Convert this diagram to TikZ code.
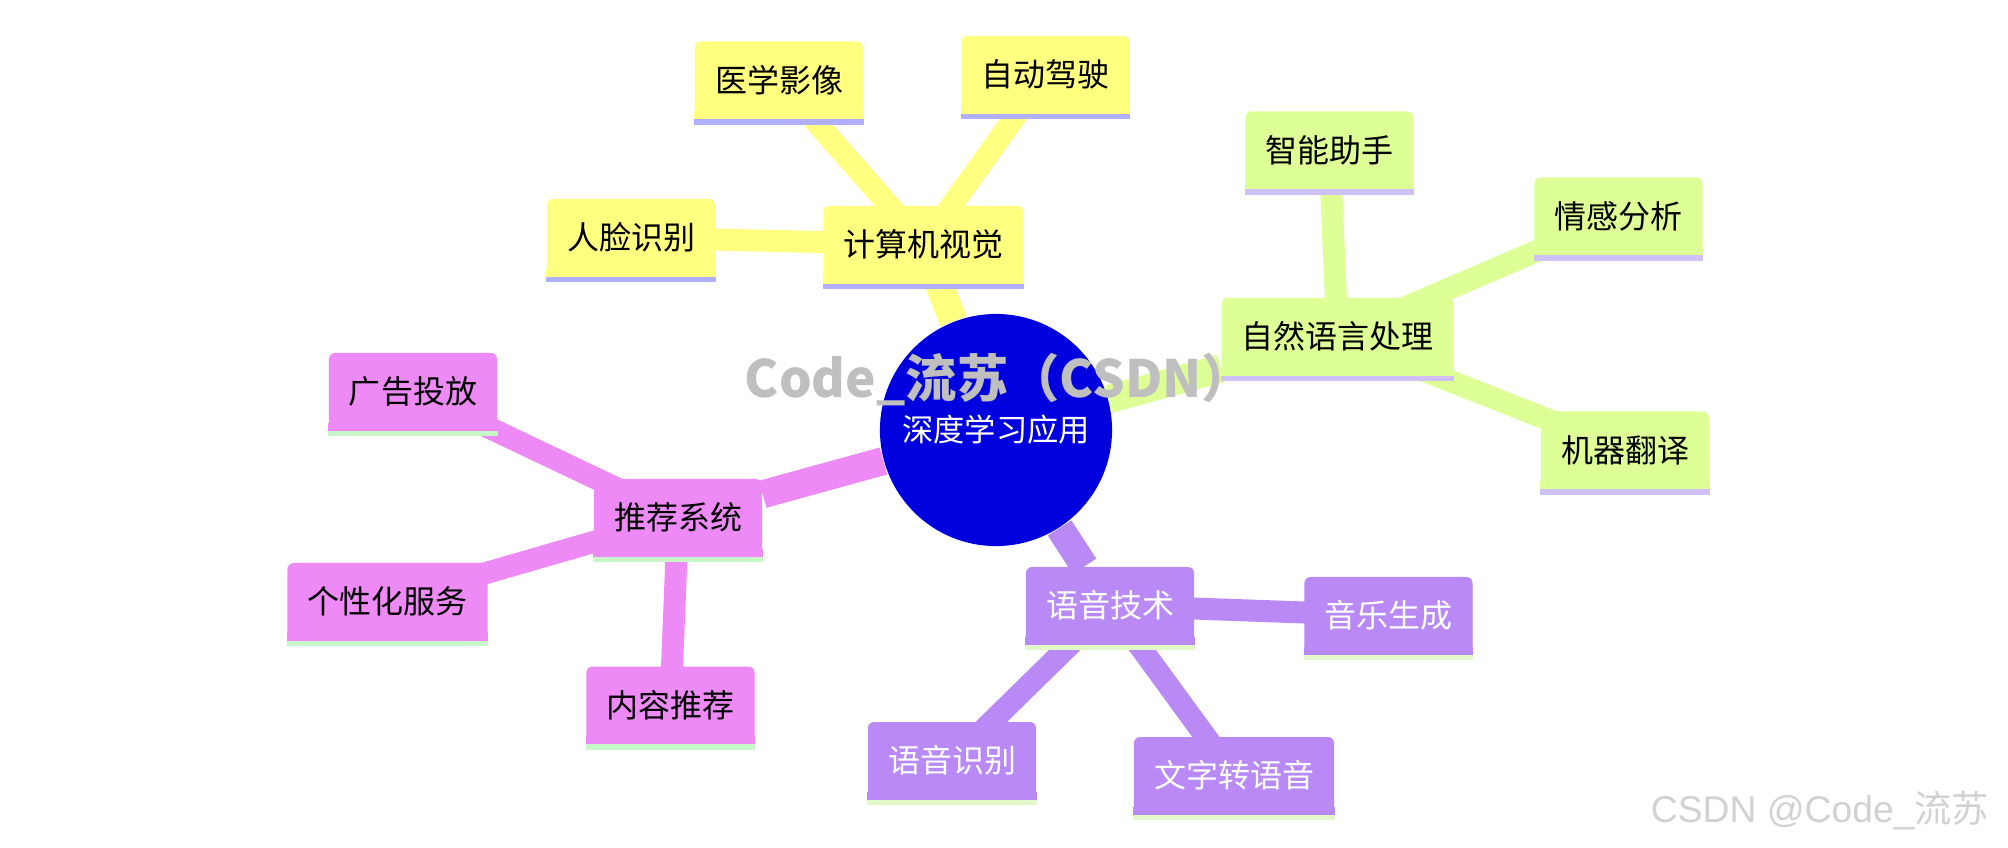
\documentclass[tikz,border=0pt]{standalone}
\usepackage{fontspec}
\setmainfont{Noto Sans CJK SC}
\newfontfamily\signfont{Liberation Sans}
\usepackage{tikz}
\usetikzlibrary{positioning,backgrounds}

\definecolor{rootblue}{HTML}{0000DF}
\definecolor{cvfill}{HTML}{FFFF80}
\definecolor{cvbar}{HTML}{B0B0FF}
\definecolor{nlpfill}{HTML}{DEFF96}
\definecolor{nlpbar}{HTML}{D0C0F8}
\definecolor{recfill}{HTML}{EE8AF6}
\definecolor{recbar}{HTML}{C8F8C8}
\definecolor{spfill}{HTML}{B98AF5}
\definecolor{spbar}{HTML}{E2F8C8}
\definecolor{markgray}{HTML}{BFBFBF}

\begin{document}
\begin{tikzpicture}[x=0.01cm, y=-0.01cm,
    topic/.style={rounded corners=0.06cm, inner xsep=0.2cm, inner ysep=0pt, minimum height=0.77cm, font=\fontsize{9.1pt}{11pt}\selectfont},
    voice/.style={topic, fill=spfill, text=white},
    mainlink/.style={line width=0.28cm},
    sublink/.style={line width=0.22cm}
]
\useasboundingbox (0,0) rectangle (2008,847);

% Root
\node[circle, fill=rootblue, minimum size=2.32cm, inner sep=0pt, text=white, font=\fontsize{8.9pt}{11pt}\selectfont] (root) at (996,430) {深度学习应用};

% Computer vision branch
\node[topic, fill=cvfill] (cv) at (923.5,244.5) {计算机视觉};
\node[topic, fill=cvfill] (face) at (631,237.5) {人脸识别};
\node[topic, fill=cvfill] (med) at (779,80) {医学影像};
\node[topic, fill=cvfill] (drive) at (1045.5,74.5) {自动驾驶};

% NLP branch
\node[topic, fill=nlpfill] (nlp) at (1337.5,336.5) {自然语言处理};
\node[topic, fill=nlpfill] (assist) at (1329.5,150) {智能助手};
\node[topic, fill=nlpfill] (senti) at (1618.5,216) {情感分析};
\node[topic, fill=nlpfill] (trans) at (1625,450) {机器翻译};

% Recommendation branch
\node[topic, fill=recfill] (rec) at (678,517.5) {推荐系统};
\node[topic, fill=recfill] (ads) at (413,391.5) {广告投放};
\node[topic, fill=recfill] (pers) at (387.5,601.5) {个性化服务};
\node[topic, fill=recfill] (content) at (670.5,705) {内容推荐};

% Speech branch
\node[voice] (speech) at (1110,605.5) {语音技术};
\node[voice] (music) at (1388.5,615.5) {音乐生成};
\node[voice] (asr) at (952,760.5) {语音识别};
\node[voice] (tts) at (1234,775.5) {文字转语音};

% Square bottoms and underline bars
\foreach \n/\fc/\bc in {cv/cvfill/cvbar, face/cvfill/cvbar, med/cvfill/cvbar, drive/cvfill/cvbar,
    nlp/nlpfill/nlpbar, assist/nlpfill/nlpbar, senti/nlpfill/nlpbar, trans/nlpfill/nlpbar,
    rec/recfill/recbar, ads/recfill/recbar, pers/recfill/recbar, content/recfill/recbar,
    speech/spfill/spbar, music/spfill/spbar, asr/spfill/spbar, tts/spfill/spbar} {
  \fill[\fc] ([yshift=0.08cm]\n.south west) rectangle (\n.south east);
  \fill[\bc] (\n.south west) rectangle ([yshift=-0.055cm]\n.south east);
}

% Links
\begin{scope}[on background layer]
\fill[white] (0,0) rectangle (2008,847);
\draw[mainlink, cvfill] (root) -- (cv);
\draw[mainlink, nlpfill] (root) -- (nlp);
\draw[mainlink, recfill] (root) -- (rec);
\draw[mainlink, spfill] (root) -- (speech);
\foreach \a/\b/\c in {cv/face/cvfill, cv/med/cvfill, cv/drive/cvfill,
    nlp/assist/nlpfill, nlp/senti/nlpfill, nlp/trans/nlpfill,
    rec/ads/recfill, rec/pers/recfill, rec/content/recfill,
    speech/music/spfill, speech/asr/spfill, speech/tts/spfill}
  \draw[sublink, \c] (\a.center) -- (\b.center);
\end{scope}

% Watermarks
\node[text=markgray, font=\fontsize{14.6pt}{17pt}\selectfont\bfseries] (mark) at (999,380) {Code\_流苏（CSDN）};
\node[text=markgray!70, font=\fontsize{10.6pt}{12pt}\selectfont] (sign) at (1820,811) {{\signfont CSDN @Code\_}流苏};
\end{tikzpicture}
\end{document}
